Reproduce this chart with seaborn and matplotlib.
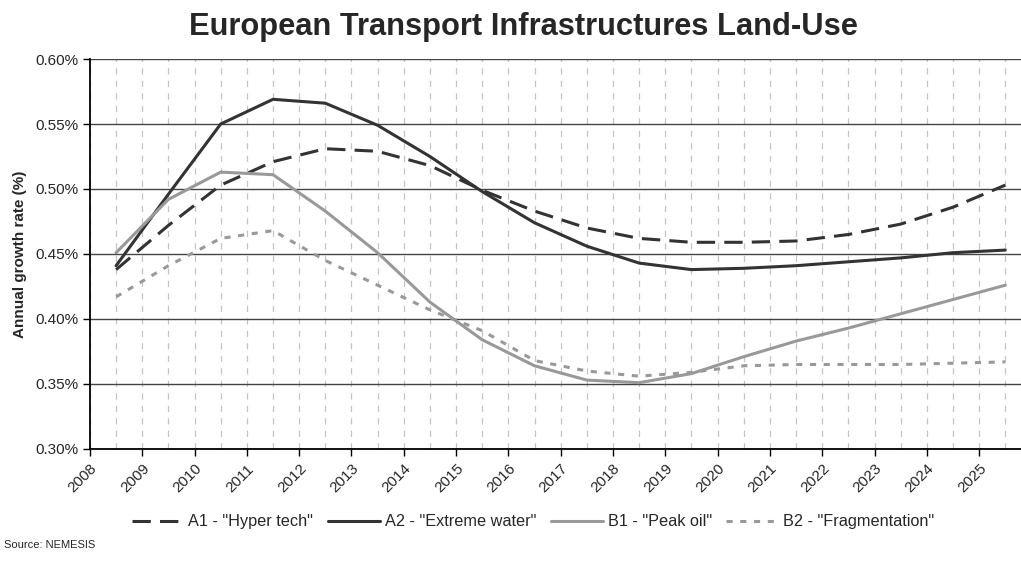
import numpy as np
import pandas as pd
import matplotlib.pyplot as plt
import matplotlib.ticker as mticker
import seaborn as sns

years = list(range(2008, 2026))

a1_hyper_tech = [0.438, 0.472, 0.503, 0.521, 0.531, 0.529, 0.518, 0.499, 0.483, 0.470,
                 0.462, 0.459, 0.459, 0.460, 0.465, 0.473, 0.486, 0.503]
a2_extreme_water = [0.441, 0.496, 0.550, 0.569, 0.566, 0.549, 0.525, 0.498, 0.474, 0.456,
                    0.443, 0.438, 0.439, 0.441, 0.444, 0.447, 0.451, 0.453]
b1_peak_oil = [0.451, 0.492, 0.513, 0.511, 0.483, 0.451, 0.413, 0.384, 0.364, 0.353,
               0.351, 0.358, 0.371, 0.383, 0.393, 0.404, 0.415, 0.426]
b2_fragmentation = [0.417, 0.441, 0.462, 0.468, 0.445, 0.426, 0.407, 0.391, 0.368, 0.360,
                    0.356, 0.359, 0.364, 0.365, 0.365, 0.365, 0.366, 0.367]

labels = ['A1 - "Hyper tech"', 'A2 - "Extreme water"', 'B1 - "Peak oil"', 'B2 - "Fragmentation"']
series = [a1_hyper_tech, a2_extreme_water, b1_peak_oil, b2_fragmentation]
colors = ['#333333', '#333333', '#999999', '#999999']
styles = [(0, (6, 3)), '-', '-', (0, (2, 2.5))]

sns.set_style('white')
plt.rcParams['font.family'] = ['Liberation Sans', 'DejaVu Sans']

fig = plt.figure(figsize=(10.21, 5.63), dpi=100)
ax = fig.add_axes([0.0881, 0.2025, 0.9119, 0.6927])

# points sit in the middle of each year's slot
xpos = np.array(years) + 0.5
for lab, vals, col, ls in zip(labels, series, colors, styles):
    df = pd.DataFrame({'x': xpos, 'val': vals})
    sns.lineplot(data=df, x='x', y='val', ax=ax, color=col, linestyle=ls,
                 linewidth=2.2, label=lab)

ax.set_xlim(2008, 2025.8)
ax.set_ylim(0.30, 0.60)
ax.set_xticks(years)
ax.set_xticklabels([str(y) for y in years], rotation=45, ha='right',
                   rotation_mode='anchor', fontsize=11)
ax.xaxis.set_minor_locator(mticker.FixedLocator(xpos))
ax.set_yticks(np.arange(0.30, 0.601, 0.05))
ax.yaxis.set_major_formatter(mticker.FuncFormatter(lambda v, p: f'{v:.2f}%'))
ax.tick_params(axis='y', labelsize=11, length=5, width=1, color='black', direction='out',
               left=True, pad=3)
ax.tick_params(axis='x', which='major', length=5, width=1, color='black', direction='out',
               bottom=True, pad=4)
ax.tick_params(axis='x', which='minor', length=0)

ax.grid(axis='x', which='both', color='#c4c4c4', linestyle=(0, (5, 5)), linewidth=0.9)
ax.grid(axis='y', which='major', color='#444444', linestyle='-', linewidth=1)
ax.set_axisbelow(True)

for s in ['top', 'right']:
    ax.spines[s].set_visible(False)
for s in ['left', 'bottom']:
    ax.spines[s].set_color('black')
    ax.spines[s].set_linewidth(1.3)

ax.set_xlabel('')
ax.set_ylabel('Annual growth rate (%)', fontsize=11, fontweight='bold', labelpad=6)

handles, labs = ax.get_legend_handles_labels()
ax.get_legend().remove()
fig.legend(handles, labs, loc='center', bbox_to_anchor=(0.522, 0.073), ncol=4,
           frameon=False, fontsize=11.7, handlelength=3.2, handletextpad=0.3,
           columnspacing=0.9)

fig.suptitle('European Transport Infrastructures Land-Use', fontsize=22.2,
             fontweight='bold', x=0.513, y=0.978)
fig.text(0.004, 0.032, 'Source: NEMESIS', fontsize=8, va='center')

fig.savefig('out.png', dpi=100)
